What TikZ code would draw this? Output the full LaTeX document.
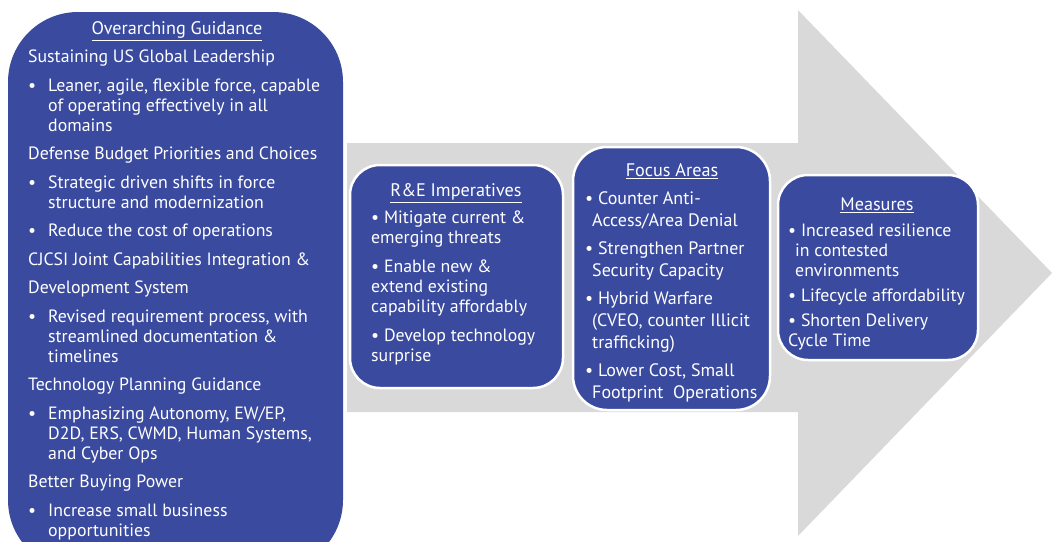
\documentclass[tikz,border=0pt]{standalone}
\usepackage{fontspec}
\setmainfont{PT Sans}
\usetikzlibrary{positioning}
\definecolor{guideblue}{HTML}{3A4A9E}
\definecolor{arrowgray}{HTML}{D9D9D9}
\newcommand{\gbullet}{\makebox[20pt][l]{\textbullet}}
\newcommand{\gindent}{\hspace*{20pt}}

\begin{document}
\begin{tikzpicture}[x=1pt, y=-1pt,
    panel/.style={fill=guideblue, draw=white, line width=2.5pt},
    paneltext/.style={text=white, align=left, inner sep=0pt, anchor=north west, font=\fontsize{17.8}{20}\selectfont},
    paneltitle/.style={text=white, inner sep=0pt, font=\fontsize{18.2}{20}\selectfont}]
  \useasboundingbox (0,0) rectangle (1052,541);
  \clip (0,0) rectangle (1052,541);
  % big arrow
  \fill[arrowgray] (347,143) -- (798,143) -- (798,10) -- (1052,273) -- (798,536) -- (798,412) -- (347,412) -- cycle;
  % panels
  \fill[guideblue, rounded corners=70pt] (8,12) rectangle (343,570);
  \draw[panel, rounded corners=30pt] (350,165) rectangle (563,388);
  \draw[panel, rounded corners=34pt] (573,147) rectangle (770,410);
  \draw[panel, rounded corners=30pt] (778,175) rectangle (978,360);
  % overarching guidance
  \node[paneltitle] (guidetitle) at (177,31) {\underline{Overarching Guidance}};
  \node[paneltext] (guidebody) at (28,50) {Sustaining US Global Leadership\\[8.5pt]
    \gbullet Leaner, agile, flexible force, capable\\
    \gindent of operating effectively in all\\
    \gindent domains\\[8.5pt]
    Defense Budget Priorities and Choices\\[8.5pt]
    \gbullet Strategic driven shifts in force\\
    \gindent structure and modernization\\[8.5pt]
    \gbullet Reduce the cost of operations\\[8.5pt]
    CJCSI Joint Capabilities Integration \&\\[8.5pt]
    Development System\\[8.5pt]
    \gbullet Revised requirement process, with\\
    \gindent streamlined documentation \&\\
    \gindent timelines\\[8.5pt]
    Technology Planning Guidance\\[8.5pt]
    \gbullet Emphasizing Autonomy, EW/EP,\\
    \gindent D2D, ERS, CWMD, Human Systems,\\
    \gindent and Cyber Ops\\[8.5pt]
    Better Buying Power\\[8.5pt]
    \gbullet Increase small business\\
    \gindent opportunities};
  % imperatives
  \node[paneltitle] (imptitle) at (456,193) {\underline{R\&E Imperatives}};
  \node[paneltext] (impbody) at (371,211) {\textbullet{} Mitigate current \&\\
    emerging threats\\[9pt]
    \textbullet{} Enable new \&\\
    extend existing\\
    capability affordably\\[9pt]
    \textbullet{} Develop technology\\
    surprise};
  % focus areas
  \node[paneltitle] (focustitle) at (672,171) {\underline{Focus Areas}};
  \node[paneltext, font=\fontsize{18}{22}\selectfont] (focusbody) at (585,191) {\textbullet{} Counter Anti-\\
    \hspace*{7pt}Access/Area Denial\\[6pt]
    \textbullet{} Strengthen Partner\\
    \hspace*{7pt}Security Capacity\\[6pt]
    \textbullet{} Hybrid Warfare\\
    \hspace*{7pt}(CVEO, counter Illicit\\
    \hspace*{7pt}trafficking)\\[6pt]
    \textbullet{} Lower Cost, Small\\
    \hspace*{7pt}Footprint~~Operations};
  % measures
  \node[paneltitle] (meastitle) at (877,205) {\underline{Measures}};
  \node[paneltext] (measbody) at (788,224) {\textbullet{} Increased resilience\\
    \hspace*{7pt}in contested\\
    \hspace*{7pt}environments\\[5pt]
    \textbullet{} Lifecycle affordability\\[5pt]
    \textbullet{} Shorten Delivery\\
    Cycle Time};
\end{tikzpicture}
\end{document}
